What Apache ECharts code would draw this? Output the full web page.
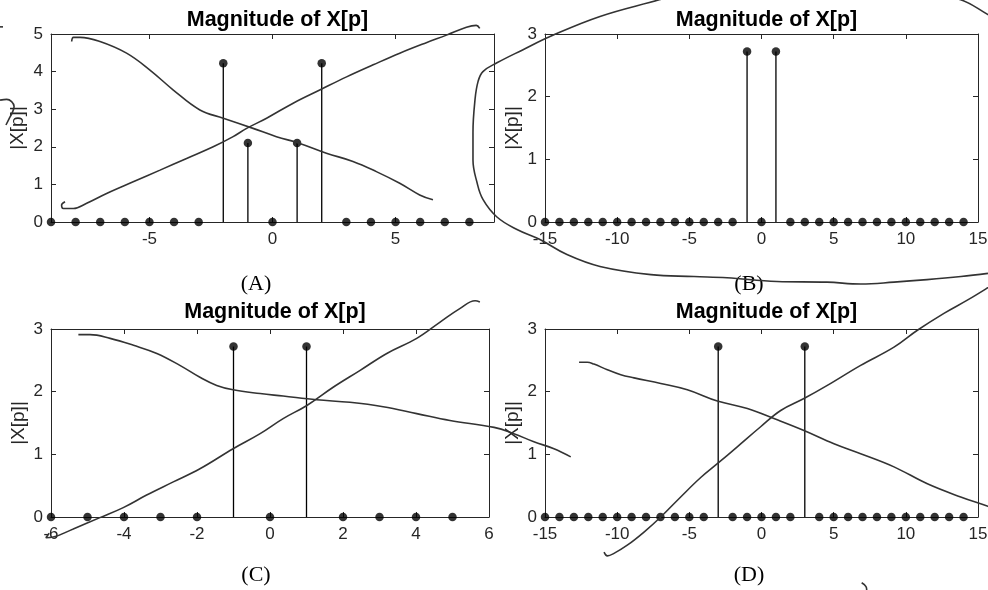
<!DOCTYPE html>
<html>
<head>
<meta charset="utf-8">
<script src="https://cdn.jsdelivr.net/npm/echarts@6/dist/echarts.min.js"></script>
<style>
html,body{margin:0;padding:0;background:#fff;}
#chart{width:988px;height:590px;}
</style>
</head>
<body>
<div id="chart"></div>
<script>
// ---------- data ----------
const titleText = 'Magnitude of X[p]';
const yLabel = '|X[p]|';
const captions = ['(A)', '(B)', '(C)', '(D)'];

const pA = [-9, -8, -7, -6, -5, -4, -3, -2, -1, 0, 1, 2, 3, 4, 5, 6, 7, 8];
const magA = [0, 0, 0, 0, 0, 0, 0, 4.22, 2.1, 0, 2.1, 4.22, 0, 0, 0, 0, 0, 0];

const pB = [-15, -14, -13, -12, -11, -10, -9, -8, -7, -6, -5, -4, -3, -2, -1, 0, 1, 2, 3, 4, 5, 6, 7, 8, 9, 10, 11, 12, 13, 14];
const magB = [0, 0, 0, 0, 0, 0, 0, 0, 0, 0, 0, 0, 0, 0, 2.72, 0, 2.72, 0, 0, 0, 0, 0, 0, 0, 0, 0, 0, 0, 0, 0];

const pC = [-6, -5, -4, -3, -2, -1, 0, 1, 2, 3, 4, 5];
const magC = [0, 0, 0, 0, 0, 2.72, 0, 2.72, 0, 0, 0, 0];

const pD = [-15, -14, -13, -12, -11, -10, -9, -8, -7, -6, -5, -4, -3, -2, -1, 0, 1, 2, 3, 4, 5, 6, 7, 8, 9, 10, 11, 12, 13, 14];
const magD = [0, 0, 0, 0, 0, 0, 0, 0, 0, 0, 0, 0, 2.72, 0, 0, 0, 0, 0, 2.72, 0, 0, 0, 0, 0, 0, 0, 0, 0, 0, 0];

const xTicksA = [-5, 0, 5];

// hand-drawn pen strokes, in each panel's own data units
const strokeA1 = [[-8.16,4.80],[-8.09,4.91],[-7.82,4.91],[-7.01,4.80],[-5.93,4.49],[-4.98,4.04],[-4.03,3.51],[-2.95,2.98],[-2.00,2.76],[-0.79,2.49],[0.16,2.27],[1.11,2.09],[2.19,1.83],[3.27,1.61],[4.22,1.34],[5.17,1.03],[5.98,0.72],[6.52,0.59]];
const strokeA2 = [[-8.43,0.54],[-8.57,0.45],[-8.50,0.36],[-8.09,0.36],[-7.55,0.50],[-6.74,0.76],[-5.66,1.07],[-4.57,1.38],[-3.49,1.69],[-2.41,2.00],[-1.60,2.27],[-1.05,2.49],[-0.24,2.76],[0.84,3.16],[1.92,3.51],[3.01,3.86],[4.09,4.18],[5.17,4.49],[6.25,4.77],[7.07,4.97],[7.88,5.18],[8.28,5.23],[8.42,5.15]];
const strokeA3 = [[-11.07,3.24],[-10.80,3.26],[-10.60,3.20],[-10.50,3.07],[-10.56,2.93],[-10.69,2.76],[-10.83,2.58]];
const strokeA4 = [[-11.10,5.19],[-10.95,5.19]];
const strokeB1 = [[16.52,3.20],[15.69,3.31],[13.75,3.55],[9.6,3.74],[2.67,3.83],[-4.26,3.74],[-7.03,3.55],[-11.19,3.28],[-14.65,2.96],[-16.52,2.75],[-18.33,2.54],[-19.30,2.40],[-19.64,2.24],[-19.85,1.95],[-19.99,1.43],[-19.99,0.99],[-19.71,0.63],[-19.30,0.36],[-18.33,0.08],[-16.94,-0.12],[-15.35,-0.28],[-13.48,-0.52],[-11.19,-0.71],[-7.66,-0.84],[-4.68,-0.87],[-2.39,-0.89],[1.07,-0.95],[4.54,-0.96],[6.89,-0.99],[9.18,-0.96],[11.47,-0.92],[13.82,-0.87],[15.69,-0.82]];
const strokeC1 = [[-5.25,2.91],[-4.93,2.91],[-4.38,2.85],[-3.74,2.74],[-3.10,2.61],[-2.47,2.42],[-1.92,2.23],[-1.46,2.10],[-1.01,2.03],[-0.27,1.97],[0.36,1.93],[1.28,1.87],[2.19,1.83],[3.10,1.76],[4.02,1.65],[4.93,1.54],[6.14,1.43],[6.68,1.33],[7.23,1.20],[7.78,1.09],[8.24,0.96]];
const strokeC2 = [[-6.05,-0.26],[-6.14,-0.33],[-5.94,-0.32],[-5.39,-0.19],[-4.66,-0.01],[-4.02,0.15],[-3.38,0.35],[-2.65,0.56],[-1.92,0.77],[-1.01,1.09],[-0.27,1.33],[0.36,1.57],[1.01,1.78],[1.73,2.07],[2.47,2.34],[3.20,2.61],[4.02,2.85],[4.66,3.11],[5.21,3.33],[5.62,3.45],[5.75,3.43]];
const strokeD1 = [[-12.64,2.47],[-12.07,2.47],[-11.61,2.44],[-10.68,2.35],[-9.75,2.27],[-8.83,2.22],[-6.98,2.13],[-5.14,2.03],[-3.06,1.85],[-0.98,1.73],[1.09,1.55],[2.94,1.38],[5.02,1.17],[6.87,1.01],[9.18,0.80],[11.49,0.53],[13.80,0.32],[15.69,0.17],[16.5,0.10]];
const strokeD2 = [[-10.91,-0.56],[-10.68,-0.62],[-10.22,-0.58],[-9.30,-0.45],[-8.14,-0.24],[-6.98,0.00],[-5.60,0.32],[-4.21,0.63],[-3.06,0.85],[-1.68,1.12],[-0.06,1.44],[1.33,1.70],[2.94,1.89],[4.56,2.10],[6.87,2.42],[9.18,2.71],[10.80,2.98],[12.64,3.25],[14.26,3.46],[15.69,3.66],[17.2,3.88]];
const strokeD3 = [[6.94,-1.05],[7.24,-1.11],[7.29,-1.17]];

// ---------- layout ----------
const W0 = 988, H0 = 590;
const grids = [
  {left: 51, top: 34, width: 443, height: 188},
  {left: 545, top: 34, width: 433, height: 188},
  {left: 51, top: 329, width: 438, height: 188},
  {left: 545, top: 329, width: 433, height: 188}
];
const xCfg = [
  {min: -9, max: 9, splitNumber: 4},
  {min: -15, max: 15, interval: 5},
  {min: -6, max: 6, interval: 2},
  {min: -15, max: 15, interval: 5}
];
const yCfg = [
  {min: 0, max: 5, interval: 1},
  {min: 0, max: 3, interval: 1},
  {min: 0, max: 3, interval: 1},
  {min: 0, max: 3, interval: 1}
];
const yNameGap = [24, 22.5, 22.5, 22.5];
const titleCenters = [272.5, 761.5, 270, 761.5];
const titleTops = [4, 4, 296, 296];
const captionCenters = [251, 744, 251, 744];
const captionTops = [268, 268, 559, 559];

const stems = [[pA, magA], [pB, magB], [pC, magC], [pD, magD]];
const strokes = [
  [strokeA1, strokeA2, strokeA3, strokeA4],
  [strokeB1],
  [strokeC1, strokeC2],
  [strokeD1, strokeD2, strokeD3]
];

// overlay grid (whole canvas) sharing each panel's data units,
// so pen strokes may leave the panel without being cut off
const overlayGrid = {left: 0, top: 0, width: W0, height: H0, outerBoundsMode: 'none'};
function overlayRanges(i) {
  const g = grids[i], xc = xCfg[i], yc = yCfg[i];
  const ux = g.width / (xc.max - xc.min);
  const uy = g.height / (yc.max - yc.min);
  const xmin = xc.min - (g.left - overlayGrid.left) / ux;
  const xmax = xmin + overlayGrid.width / ux;
  const ymax = yc.max + (g.top - overlayGrid.top) / uy;
  const ymin = ymax - overlayGrid.height / uy;
  return {xmin, xmax, ymin, ymax};
}

const axisColor = '#262626';
const font = 'Liberation Sans, Arial, Helvetica, sans-serif';

const gridList = grids.map(g => Object.assign({outerBoundsMode: 'none'}, g));
const xAxis = [], yAxis = [], series = [], title = [];
grids.forEach((g, i) => {
  const lineStyle = {color: axisColor, width: 1};
  const tick = {show: true, inside: true, length: 5, lineStyle: {color: axisColor}};
  const xLabel = {
    show: true, color: axisColor, fontSize: 17, fontFamily: font, margin: 9,
    showMinLabel: i !== 0, showMaxLabel: i !== 0
  };
  if (i === 0) xLabel.formatter = v => (xTicksA.indexOf(v) >= 0 ? String(v) : '');
  xAxis.push(Object.assign({type: 'value', gridIndex: i, position: 'bottom', z: 1,
    axisLine: {show: true, onZero: false, lineStyle}, axisTick: tick, axisLabel: xLabel,
    splitLine: {show: false}}, xCfg[i]));
  xAxis.push(Object.assign({type: 'value', gridIndex: i, position: 'top', z: 1,
    axisLine: {show: true, onZero: false, lineStyle}, axisTick: tick, axisLabel: {show: false},
    splitLine: {show: false}}, xCfg[i]));
  yAxis.push(Object.assign({type: 'value', gridIndex: i, position: 'left', z: 1,
    name: yLabel, nameLocation: 'middle', nameGap: yNameGap[i], nameRotate: 90,
    nameTextStyle: {color: axisColor, fontSize: 19, fontFamily: font},
    axisLine: {show: true, onZero: false, lineStyle}, axisTick: tick,
    axisLabel: {show: true, color: axisColor, fontSize: 17, fontFamily: font, margin: 8},
    splitLine: {show: false}}, yCfg[i]));
  yAxis.push(Object.assign({type: 'value', gridIndex: i, position: 'right', z: 1,
    axisLine: {show: true, onZero: false, lineStyle}, axisTick: tick, axisLabel: {show: false},
    splitLine: {show: false}}, yCfg[i]));

  const [ps, mags] = stems[i];
  const pts = ps.map((p, k) => [p, mags[k]]);
  series.push({
    type: 'custom', xAxisIndex: 2 * i, yAxisIndex: 2 * i, data: pts, z: 3,
    clip: false,
    renderItem: (params, api) => {
      const a = api.coord([api.value(0), 0]);
      const b = api.coord([api.value(0), api.value(1)]);
      return {type: 'line', shape: {x1: a[0], y1: a[1], x2: b[0], y2: b[1]},
        style: {stroke: '#000', lineWidth: 1.3}};
    }
  });
  series.push({
    type: 'scatter', xAxisIndex: 2 * i, yAxisIndex: 2 * i, data: pts, z: 5,
    symbol: 'circle', symbolSize: 8.5, clip: false,
    itemStyle: {color: '#000'}
  });

  title.push({text: titleText, left: titleCenters[i], top: titleTops[i], textAlign: 'center',
    textStyle: {fontSize: 21.5, fontWeight: 'bold', color: '#000', fontFamily: font}});
  title.push({text: captions[i], left: captionCenters[i], top: captionTops[i], textAlign: 'center',
    textStyle: {fontSize: 22, fontWeight: 'normal', color: '#000',
      fontFamily: 'Liberation Serif, Times New Roman, serif'}});
});

// overlay axes and pen strokes
grids.forEach((g, i) => {
  const gi = gridList.length;
  gridList.push(Object.assign({}, overlayGrid));
  const r = overlayRanges(i);
  const xi = xAxis.length, yi = yAxis.length;
  xAxis.push({type: 'value', gridIndex: gi, min: r.xmin, max: r.xmax, show: false});
  yAxis.push({type: 'value', gridIndex: gi, min: r.ymin, max: r.ymax, show: false});
  strokes[i].forEach(s => {
    series.push({
      type: 'line', xAxisIndex: xi, yAxisIndex: yi, data: s, z: 6,
      smooth: 0.4, showSymbol: false, clip: false, silent: true,
      lineStyle: {color: '#333', width: 1.6}
    });
  });
});

const chart = echarts.init(document.getElementById('chart'), null, {renderer: 'canvas'});
chart.setOption({
  animation: false,
  backgroundColor: '#fff',
  title, grid: gridList, xAxis, yAxis, series
});
</script>
</body>
</html>
